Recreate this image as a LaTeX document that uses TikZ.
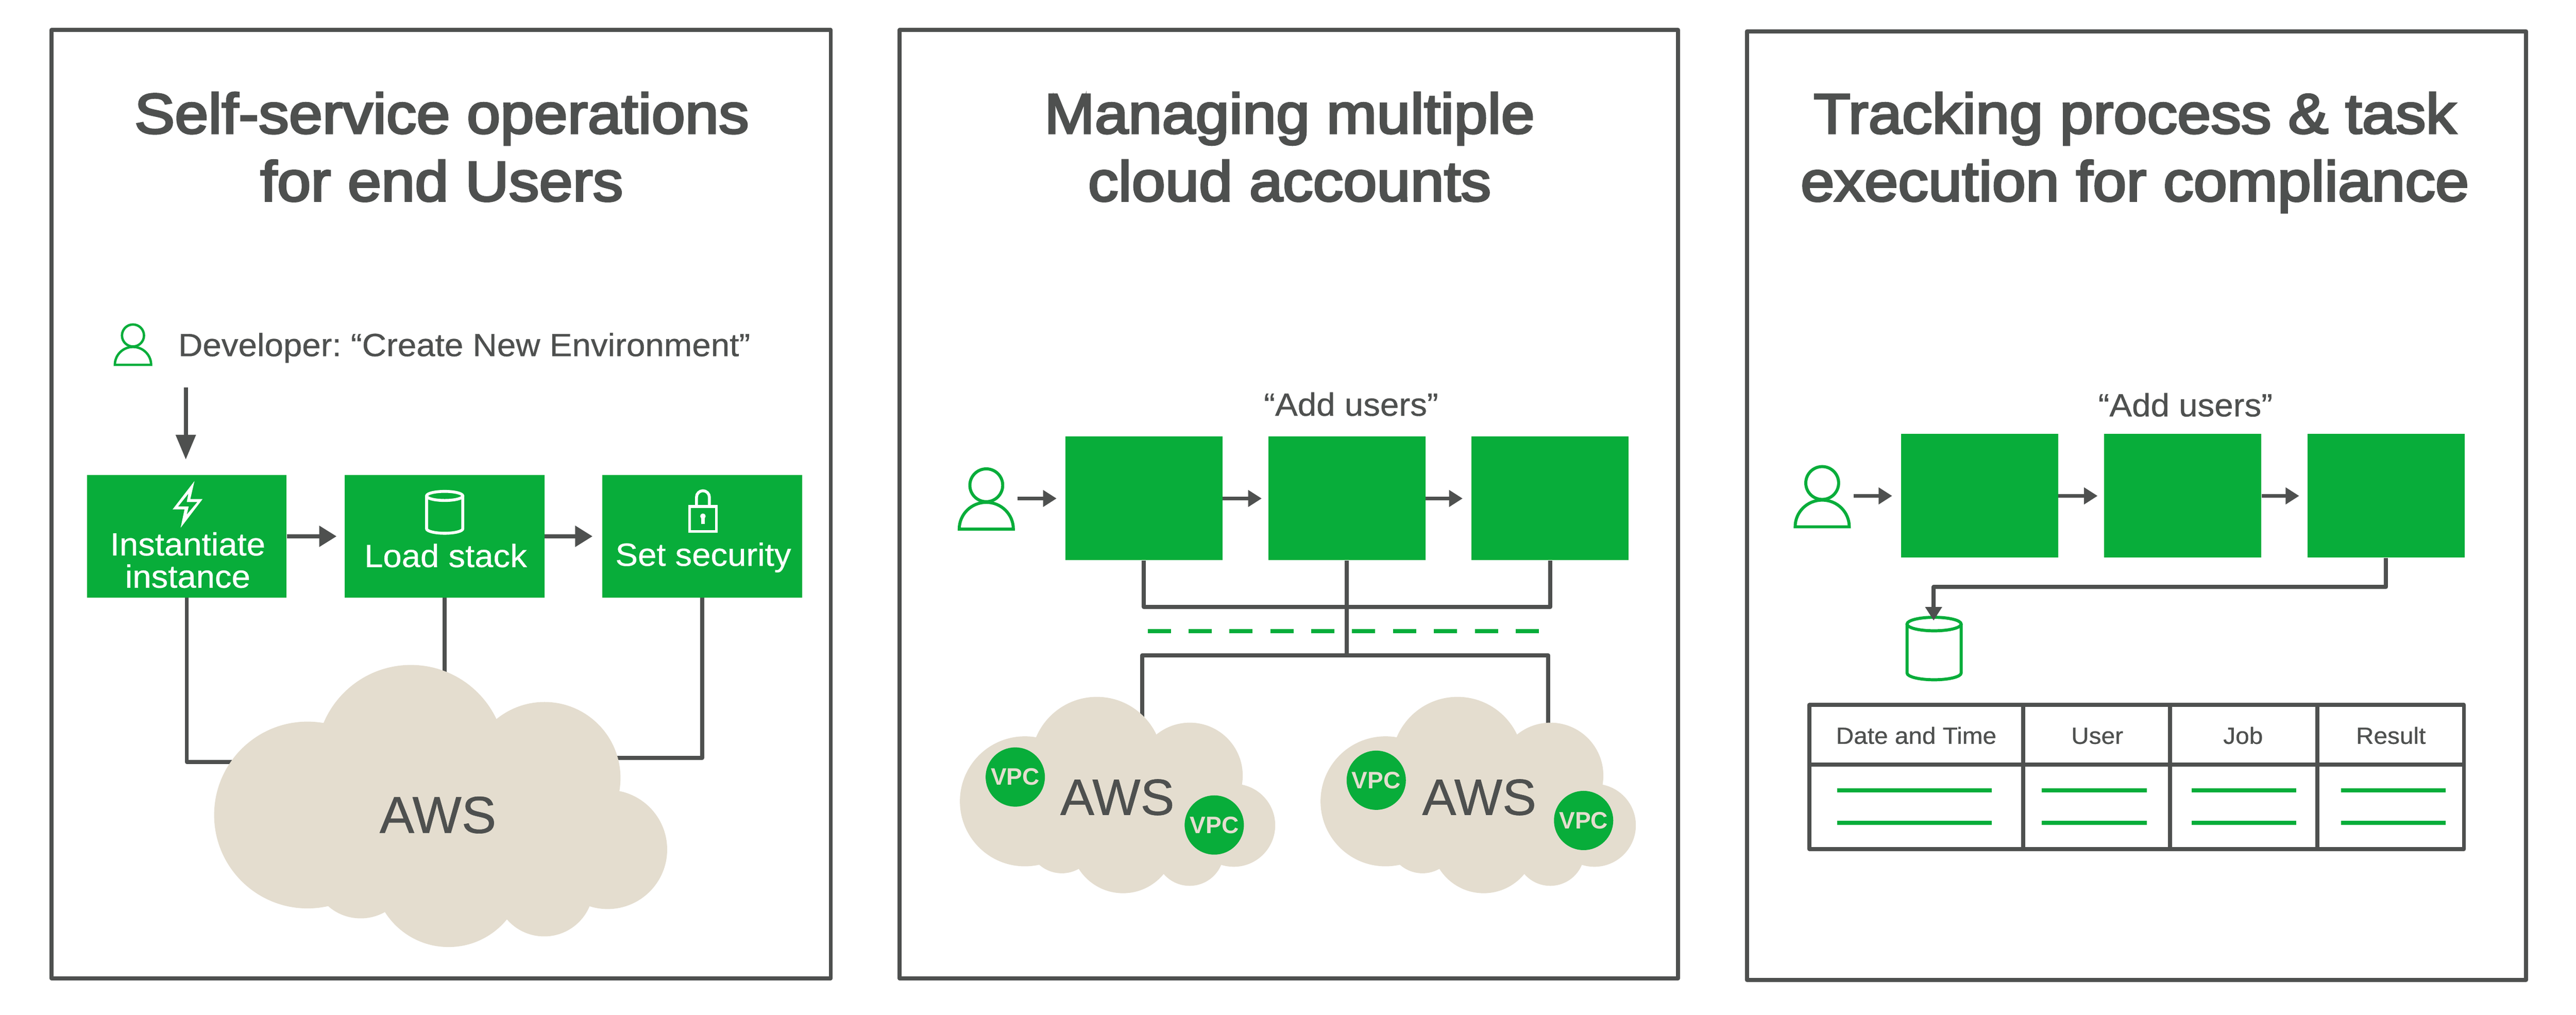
\documentclass[tikz,border=0pt]{standalone}
\usepackage{fontspec}
\usepackage{tikz}
\usetikzlibrary{arrows.meta}
\setmainfont[FakeStretch=1.05,FakeBold=0.6]{Liberation Sans}
\newfontfamily\plainfont[FakeBold=0.6]{Liberation Sans}
\newfontfamily\vpcfont{Liberation Sans}
\newfontfamily\headfont[FakeStretch=1.07,FakeBold=3.5]{Liberation Sans}
\definecolor{leafgreen}{HTML}{08AD3A}
\definecolor{slategray}{HTML}{4E504F}
\definecolor{cloudbeige}{HTML}{E4DDCF}
\frenchspacing
\tikzset{
	frame/.style={draw=slategray, line width=.125cm, line join=round},
	wire/.style={draw=slategray, line width=.125cm, line join=round},
	flow/.style={wire, -{Triangle[length=.42cm,width=.5cm]}},
	bigflow/.style={wire, -{Triangle[length=.54cm,width=.63cm]}},
	heading/.style={font=\headfont\fontsize{49.9}{59.8}\selectfont, text=slategray, align=center, anchor=base},
	plainlabel/.style={font=\fontsize{28.4}{28.5}\selectfont, text=slategray},
	tablelabel/.style={font=\fontsize{20.7}{24}\selectfont, text=slategray, anchor=base},
	boxlabel/.style={font=\fontsize{28.3}{28.5}\selectfont, text=white, align=center, anchor=base},
	awslabel/.style={font=\plainfont\fontsize{46}{50}\selectfont, text=slategray},
	smallaws/.style={font=\plainfont\fontsize{45}{50}\selectfont, text=slategray},
	vpclabel/.style={circle, fill=leafgreen, minimum size=1.84cm, inner sep=0pt, text=cloudbeige, font=\vpcfont\bfseries\fontsize{21}{24}\selectfont},
	wide/.style={fill=leafgreen, minimum width=6.2cm, minimum height=3.81cm, inner sep=0pt},
	stage/.style={fill=leafgreen, minimum width=4.88cm, minimum height=3.84cm, inner sep=0pt},
	rowline/.style={draw=leafgreen, line width=.125cm},
	personicon/.pic={
		\draw (0,1.36) circle (.51);
		\draw (-.84,0) arc[start angle=180, end angle=0, x radius=.84, y radius=.83] -- cycle;
	},
	dbicon/.pic={
		\draw (0,.76) ellipse (.84 and .21);
		\draw (-.84,.76) -- (-.84,-.76) arc[start angle=180, end angle=360, x radius=.84, y radius=.21] -- (.84,.76);
	},
	awscloud/.pic={
		\fill[cloudbeige] (-4.14,-.28) circle (2.90);
		\fill[cloudbeige] (-.93,1.44) circle (2.94);
		\fill[cloudbeige] (3.22,.87) circle (2.36);
		\fill[cloudbeige] (5.18,-1.35) circle (1.85);
		\fill[cloudbeige] (.24,-2.04) circle (2.34);
		\fill[cloudbeige] (3.21,-2.52) circle (1.53);
		\fill[cloudbeige] (-2.49,-1.96) circle (1.53);
		\fill[cloudbeige] (0,0) circle (3);
	}
}
\begin{document}
\begin{tikzpicture}
	\useasboundingbox (0,0) rectangle (80,31.52);
	\draw[frame] (1.60,30.59) rectangle (25.80,1.14);
	\draw[frame] (27.94,30.59) rectangle (52.11,1.14);
	\draw[frame] (54.25,30.55) rectangle (78.45,1.09);

	\node[heading] (titleA) at (13.72,25.28) {Self-service operations\\for end Users};
	\node[heading] (titleB) at (40.05,25.28) {Managing multiple\\cloud accounts};
	\node[heading] (titleC) at (66.30,25.28) {Tracking process \& task\\execution for compliance};

	% left panel
	\pic[color=leafgreen, line width=.075cm, scale=.67] at (4.13,20.19) {personicon};
	\node[plainlabel, anchor=base west, inner sep=0pt] (devtext) at (5.53,20.46) {Developer: “Create New Environment”};
	\coordinate (devstart) at (5.77,19.48);
	\node[wide] (inst) at (5.80,14.865) {};
	\node[wide] (stack) at (13.81,14.865) {};
	\node[wide] (secure) at (21.81,14.865) {};
	\draw[wire, -{Triangle[length=.77cm,width=.6cm]}, shorten >=.47cm] (devstart) -- (devstart |- inst.north);
	\draw[bigflow, shorten >=.25cm] (inst) -- (stack);
	\draw[bigflow, shorten >=.3cm] (stack) -- (secure);
	\node[boxlabel] (instlabel) at (5.83,13.27) {Instantiate\\instance};
	\node[boxlabel] (stacklabel) at (13.84,13.91) {Load stack};
	\node[boxlabel] (securelabel) at (21.84,13.95) {Set security};
	% icons
	\fill[white, even odd rule] (6.04,16.58) -- (5.91,16.02) -- (6.29,16.02) -- (5.61,15.13) -- (5.73,15.70) -- (5.36,15.70) -- cycle
		(5.85,16.19) -- (5.80,15.93) -- (6.13,15.93) -- (5.80,15.54) -- (5.86,15.79) -- (5.53,15.79) -- cycle;
	\pic[color=white, line width=.09cm, scale=.67] at (13.81,15.61) {dbicon};
	\draw[white, line width=.09cm] (21.415,15.795) rectangle (22.245,15.015);
	\draw[white, line width=.09cm] (21.63,15.795) -- (21.63,16.08) arc[start angle=180, end angle=0, radius=.20] -- (22.03,15.795);
	\fill[white] (21.83,15.49) circle (.085);
	\fill[white] (21.78,15.49) rectangle (21.88,15.24);
	\coordinate (cloudwest) at (9,7.86);
	\coordinate (cloudeast) at (17,7.99);
	\coordinate (cloudtop) at (13.81,10.5);
	\draw[wire] (inst.south) |- (cloudwest);
	\draw[wire] (stack.south) -- (cloudtop);
	\draw[wire] (secure.south) |- (cloudeast);
	\pic at (13.69,6.49) {awscloud};
	\node[awslabel] (awsA) at (13.60,6.21) {AWS};

	% middle panel
	\pic[color=leafgreen, line width=.095cm] at (30.63,15.09) {personicon};
	\coordinate (userA) at (31.60,16.04);
	\node[plainlabel, anchor=base] (addtextA) at (41.96,18.61) {“Add users”};
	\node[stage] (addA) at (35.52,16.04) {};
	\node[stage] (addB) at (41.83,16.04) {};
	\node[stage] (addC) at (48.14,16.04) {};
	\draw[flow, shorten >=.26cm] (userA) -- (addA);
	\draw[flow, shorten >=.2cm] (addA) -- (addB);
	\draw[flow, shorten >=.27cm] (addB) -- (addC);
	\draw[draw=leafgreen, line width=.13cm, dash pattern=on .72cm off .55cm] (35.64,11.92) -- (47.81,11.92);
	\coordinate (busmid) at (41.83,12.67);
	\coordinate (hubdown) at (41.83,11.17);
	\coordinate (leftdrop) at (35.47,8.92);
	\coordinate (rightdrop) at (48.08,8.62);
	\draw[wire] (addA.south) |- (busmid) -| (addC.south);
	\draw[wire] (addB.south) -- (hubdown);
	\draw[wire] (leftdrop) |- (hubdown) -| (rightdrop);
	\pic[scale=.696] at (34.71,6.83) {awscloud};
	\pic[scale=.696] at (45.91,6.83) {awscloud};
	\node[smallaws] (awsB) at (34.70,6.76) {AWS};
	\node[smallaws] (awsC) at (45.94,6.76) {AWS};
	\node[vpclabel] (vpcA) at (31.53,7.39) {VPC};
	\node[vpclabel] (vpcB) at (37.71,5.90) {VPC};
	\node[vpclabel] (vpcC) at (42.74,7.29) {VPC};
	\node[vpclabel] (vpcD) at (49.18,6.04) {VPC};

	% right panel
	\pic[color=leafgreen, line width=.095cm] at (56.59,15.16) {personicon};
	\coordinate (userB) at (57.56,16.12);
	\node[plainlabel, anchor=base] (addtextB) at (67.87,18.59) {“Add users”};
	\node[stage] (logA) at (61.48,16.12) {};
	\node[stage] (logB) at (67.79,16.12) {};
	\node[stage] (logC) at (74.10,16.12) {};
	\draw[flow, shorten >=.27cm] (userB) -- (logA);
	\draw[flow, shorten >=.2cm] (logA) -- (logB);
	\draw[flow, shorten >=.25cm] (logB) -- (logC);
	\pic[color=leafgreen, line width=.095cm] at (60.065,11.38) {dbicon};
	\coordinate (elbow) at (60.05,13.29);
	\coordinate (dbtop) at (60.05,12.25);
	\draw[flow] (logC.south) |- (elbow) -- (dbtop);
	\draw[wire] (56.19,9.63) rectangle (76.52,5.15);
	\draw[wire] (56.19,7.77) -- (76.52,7.77);
	\foreach \colx in {62.83,67.39,71.97}
		\draw[wire] (\colx,9.63) -- (\colx,5.15);
	\node[tablelabel] (datecell) at (59.51,8.42) {Date and Time};
	\node[tablelabel] (usercell) at (65.13,8.42) {User};
	\node[tablelabel] (jobcell) at (69.66,8.42) {Job};
	\node[tablelabel] (resultcell) at (74.25,8.42) {Result};
	\foreach \xa/\xb in {57.06/61.86,63.41/66.67,68.06/71.31,72.70/75.95}
		\foreach \rowy in {6.97,5.97}
			\draw[rowline] (\xa,\rowy) -- (\xb,\rowy);
\end{tikzpicture}
\end{document}
